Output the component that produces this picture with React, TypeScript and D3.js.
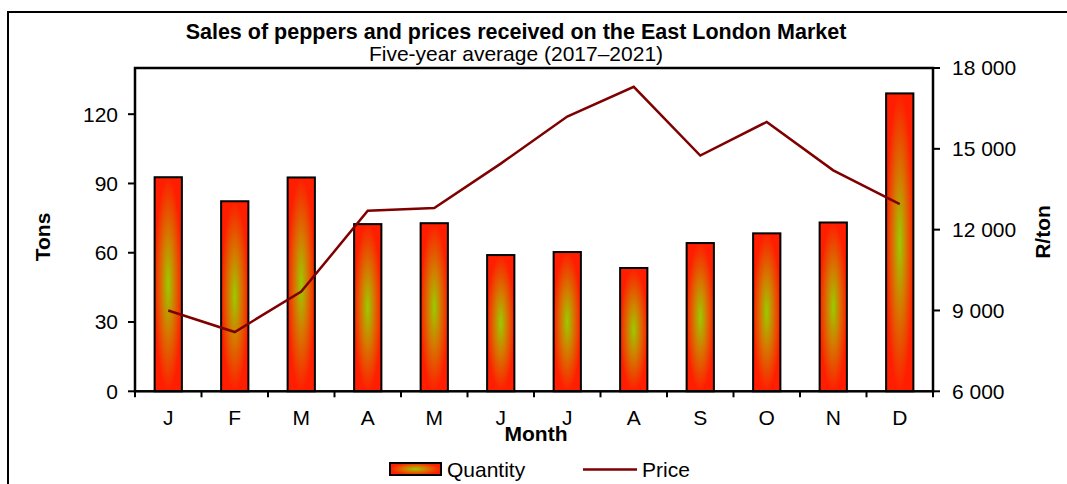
import React from "react";
import * as d3 from "d3";

const months = ["J", "F", "M", "A", "M", "J", "J", "A", "S", "O", "N", "D"];
const quantity = [92.7, 82.3, 92.6, 72.4, 72.8, 59.0, 60.3, 53.4, 64.2, 68.4, 73.1, 129.0];
const price = [9000, 8200, 9700, 12700, 12800, 14450, 16200, 17300, 14750, 16000, 14200, 12950];
const leftTicks = [0, 30, 60, 90, 120];
const rightTicks = [6000, 9000, 12000, 15000, 18000];

const W = 1067;
const H = 484;
const left = 135;
const right = 933;
const top = 68;
const bottom = 391.3;
const FONT = "'Liberation Sans', Arial, sans-serif";

export default function App() {
  const idx = months.map((_, i) => i);
  const x = d3.scaleBand<number>().domain(idx).range([left, right]).padding(0);
  const yL = d3.scaleLinear().domain([0, 140]).range([bottom, top]);
  const yR = d3.scaleLinear().domain([6000, 18000]).range([bottom, top]);
  const bw = x.bandwidth() * 0.41;
  const cx = (i: number) => (x(i) as number) + x.bandwidth() / 2;
  const line = d3
    .line<number>()
    .x((_, i) => cx(i))
    .y((d) => yR(d));
  const fmt = (v: number) => d3.format(",")(v).replace(/,/g, " ");

  return (
    <svg
      width={W}
      height={H}
      style={{ position: "absolute", left: 0, top: 0, background: "#fff" }}
      fontFamily={FONT}
    >
      <defs>
        <radialGradient id="barGrad" cx="0.5" cy="0.5" r="0.5">
          <stop offset="0" stopColor="#99cc00" />
          <stop offset="0.45" stopColor="#d47a00" />
          <stop offset="1" stopColor="#ff1e00" />
        </radialGradient>
      </defs>
      <rect x={0} y={0} width={W} height={H} fill="#fff" />
      {/* outer frame */}
      <rect x={8} y={12} width={1100} height={520} fill="none" stroke="#000" strokeWidth={2} />

      {/* titles */}
      <text x={516} y={39} textAnchor="middle" fontSize={21.5} fontWeight="bold">
        Sales of peppers and prices received on the East London Market
      </text>
      <text x={516} y={61} textAnchor="middle" fontSize={21}>
        Five-year average (2017–2021)
      </text>

      {/* bars */}
      {quantity.map((q, i) => (
        <rect
          key={i}
          x={cx(i) - bw / 2}
          y={yL(q)}
          width={bw}
          height={bottom - yL(q)}
          fill="url(#barGrad)"
          stroke="#000"
          strokeWidth={2}
        />
      ))}

      {/* price line */}
      <path d={line(price) || ""} fill="none" stroke="#7f0000" strokeWidth={2.5} />

      {/* plot frame */}
      <rect x={left} y={top} width={right - left} height={bottom - top} fill="none" stroke="#000" strokeWidth={2.5} />

      {/* left axis ticks */}
      {leftTicks.map((t) => (
        <g key={"l" + t}>
          <line x1={left - 7} x2={left} y1={yL(t)} y2={yL(t)} stroke="#000" strokeWidth={2} />
          <text x={118} y={yL(t)} dy="0.35em" textAnchor="end" fontSize={21}>
            {t}
          </text>
        </g>
      ))}
      {/* right axis ticks */}
      {rightTicks.map((t) => (
        <g key={"r" + t}>
          <line x1={right} x2={right + 7} y1={yR(t)} y2={yR(t)} stroke="#000" strokeWidth={2} />
          <text x={952} y={yR(t)} dy="0.35em" textAnchor="start" fontSize={21}>
            {fmt(t)}
          </text>
        </g>
      ))}
      {/* bottom ticks */}
      {d3.range(13).map((k) => {
        const xx = left + k * x.step();
        return <line key={"b" + k} x1={xx} x2={xx} y1={bottom} y2={bottom + 6} stroke="#000" strokeWidth={2} />;
      })}
      {months.map((m, i) => (
        <text key={"m" + i} x={cx(i)} y={425} textAnchor="middle" fontSize={21}>
          {m}
        </text>
      ))}

      {/* axis titles */}
      <text x={536} y={441} textAnchor="middle" fontSize={21} fontWeight="bold">
        Month
      </text>
      <text transform={`translate(50,237) rotate(-90)`} textAnchor="middle" fontSize={21} fontWeight="bold">
        Tons
      </text>
      <text transform={`translate(1050,232) rotate(-90)`} textAnchor="middle" fontSize={21} fontWeight="bold">
        R/ton
      </text>

      {/* legend */}
      <rect x={390} y={463} width={51} height={12} fill="url(#barGrad)" stroke="#000" strokeWidth={2} />
      <text x={447} y={477} fontSize={21}>
        Quantity
      </text>
      <line x1={583} x2={637} y1={469.5} y2={469.5} stroke="#7f0000" strokeWidth={2.5} />
      <text x={642} y={477} fontSize={21}>
        Price
      </text>
    </svg>
  );
}
